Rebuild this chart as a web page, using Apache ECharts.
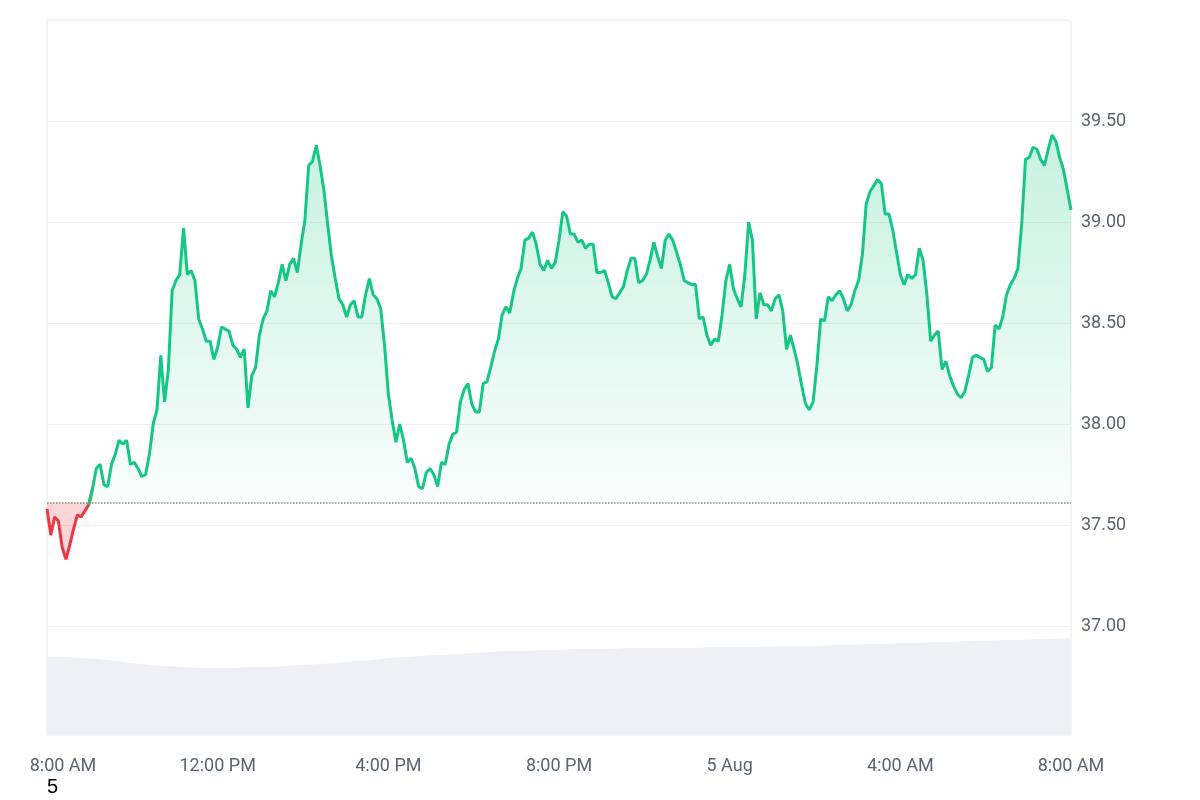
<!DOCTYPE html>
<html><head><meta charset="utf-8">
<script src="https://cdn.jsdelivr.net/npm/echarts@6/dist/echarts.min.js"></script>
<style>html,body{margin:0;background:#fff}#c{width:1200px;height:800px}</style>
</head><body><div id="c"></div>
<script>
const prices = [37.58,37.45,37.54,37.52,37.39,37.33,37.40,37.48,37.55,37.54,37.57,37.60,37.68,37.78,37.80,37.70,37.69,37.80,37.85,37.92,37.90,37.92,37.80,37.81,37.78,37.74,37.75,37.85,38.00,38.07,38.34,38.11,38.27,38.66,38.71,38.74,38.97,38.74,38.76,38.71,38.52,38.47,38.41,38.41,38.32,38.38,38.48,38.47,38.46,38.39,38.37,38.33,38.37,38.08,38.24,38.28,38.44,38.52,38.56,38.66,38.63,38.70,38.79,38.71,38.79,38.82,38.75,38.89,39.01,39.28,39.30,39.38,39.28,39.16,38.99,38.83,38.72,38.62,38.59,38.53,38.59,38.61,38.53,38.53,38.64,38.72,38.64,38.62,38.57,38.39,38.15,38.02,37.91,38.00,37.92,37.81,37.83,37.78,37.69,37.68,37.76,37.78,37.75,37.69,37.81,37.80,37.90,37.95,37.96,38.11,38.17,38.20,38.10,38.06,38.06,38.20,38.21,38.28,38.36,38.42,38.54,38.58,38.55,38.65,38.72,38.77,38.91,38.92,38.95,38.89,38.79,38.76,38.81,38.77,38.80,38.91,39.05,39.03,38.94,38.94,38.90,38.91,38.87,38.89,38.89,38.75,38.75,38.76,38.70,38.63,38.62,38.65,38.68,38.76,38.82,38.82,38.70,38.71,38.74,38.81,38.90,38.83,38.77,38.91,38.94,38.91,38.85,38.79,38.71,38.70,38.69,38.69,38.52,38.53,38.44,38.39,38.42,38.41,38.54,38.71,38.79,38.67,38.62,38.58,38.74,39.00,38.91,38.52,38.65,38.59,38.59,38.56,38.62,38.64,38.56,38.37,38.44,38.37,38.29,38.19,38.10,38.07,38.11,38.29,38.52,38.51,38.63,38.61,38.64,38.66,38.62,38.56,38.59,38.66,38.71,38.84,39.09,39.15,39.18,39.21,39.19,39.04,39.04,38.96,38.85,38.74,38.69,38.74,38.72,38.74,38.87,38.81,38.64,38.41,38.44,38.46,38.27,38.31,38.24,38.19,38.15,38.13,38.16,38.24,38.33,38.34,38.33,38.32,38.26,38.28,38.49,38.47,38.53,38.64,38.69,38.72,38.77,38.99,39.31,39.32,39.37,39.36,39.31,39.28,39.36,39.43,39.40,39.32,39.26,39.16,39.06];
const baseline = 37.61;
const redEnd = 12;
const volume = [78,78,77,76,74,72,70,69,68,67,67,67,68,68,69,70,71,72,74,75,77,78,79,80,81,82,83,84,84,85,85,86,86,86,87,87,87,87,87,88,88,88,88,89,89,89,90,90,91,91,92,92,93,93,94,94,95,95,96,96,97];
const xTickLabels = ['8:00 AM','12:00 PM','4:00 PM','8:00 PM','5 Aug','4:00 AM','8:00 AM'];

const redData = prices.map((v, i) => i <= redEnd ? v : null);
const greenData = prices.map((v, i) => i >= redEnd - 1 ? v : null);
const volIdx = volume.map((_, i) => i * (prices.length - 1) / (volume.length - 1));

const chart = echarts.init(document.getElementById('c'));
const lbl = {color:'#5b6472', fontSize:18, fontFamily:'Roboto, Arial, sans-serif'};
chart.setOption({
  animation:false,
  grid:[
    {left:47, right:129, top:20, height:707},
    {left:47, right:129, top:20, height:715, show:true, borderColor:'#e6e8ec', borderWidth:1}
  ],
  xAxis:[
    {type:'value', gridIndex:0, min:0, max:prices.length-1, show:false},
    {type:'value', gridIndex:1, min:0, max:prices.length-1, show:false},
    {type:'value', gridIndex:1, min:0, max:24, interval:4, position:'bottom',
     axisLine:{show:false}, axisTick:{show:false}, splitLine:{show:false},
     axisLabel:Object.assign({margin:22, formatter:(v)=> v===0 ? '{f|'+xTickLabels[0]+'}' : xTickLabels[v/4],
       rich:{f:{padding:[0,0,0,32], color:'#5b6472', fontSize:18, fontFamily:'Roboto, Arial, sans-serif'}}}, lbl)}
  ],
  yAxis:[
    {type:'value', gridIndex:0, position:'right', min:36.5, max:40, interval:0.5,
     axisLine:{show:false}, axisTick:{show:false},
     splitLine:{lineStyle:{color:'#eef0f3'}},
     axisLabel:Object.assign({margin:10, formatter:(v)=> (v<=36.5||v>=40)?'':v.toFixed(2)}, lbl)},
    {type:'value', gridIndex:1, min:0, max:715, show:false}
  ],
  series:[
    {type:'line', xAxisIndex:1, yAxisIndex:1, data:volume.map((v,i)=>[volIdx[i],v]), symbol:'none',
     lineStyle:{width:0}, areaStyle:{color:'#eef0f5', opacity:1}, silent:true, z:1},
    {type:'line', xAxisIndex:0, yAxisIndex:0, data:redData.map((v,i)=>[i,v]), symbol:'none',
     lineStyle:{color:'#ea3943', width:3},
     areaStyle:{origin:baseline, color:'rgba(234,57,67,0.3)'}, z:3},
    {type:'line', xAxisIndex:0, yAxisIndex:0, data:greenData.map((v,i)=>[i,v]), symbol:'none',
     lineStyle:{color:'#16c784', width:3},
     areaStyle:{origin:baseline, color:new echarts.graphic.LinearGradient(0,0,0,1,[
       {offset:0,color:'rgba(22,199,132,0.35)'},{offset:1,color:'rgba(22,199,132,0.03)'}])},
     markLine:{silent:true, symbol:'none', label:{show:false},
       lineStyle:{color:'#888', type:'dotted', width:1.5}, data:[{yAxis:baseline}]}, z:4}
  ],
  graphic:[{type:'text', left:47, top:777, style:{text:'5', fontSize:20, fill:'#000', fontFamily:'Arial, sans-serif'}}]
});
</script></body></html>
